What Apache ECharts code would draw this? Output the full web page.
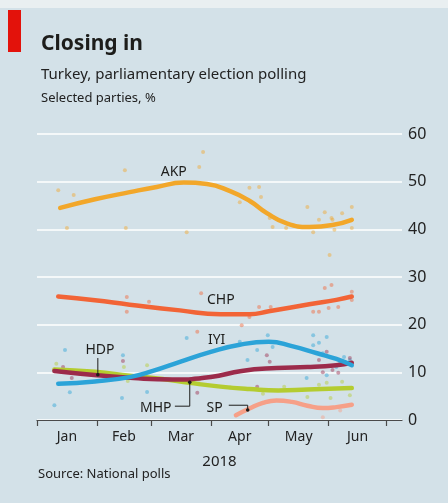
<!DOCTYPE html>
<html>
<head>
<meta charset="utf-8">
<script src="https://cdn.jsdelivr.net/npm/echarts@6/dist/echarts.min.js"></script>
<style>
html,body{margin:0;padding:0;background:#d3e1e8;}
#c{width:448px;height:503px;}
</style>
</head>
<body>
<div id="c"></div>
<script>
// ---- Data (x = days since 1 Jan 2018, y = % support) ----
var monthStartDays = [0, 31, 59, 90, 120, 151, 181];
var monthMidDays = [15.5, 45, 74.5, 105, 135.5, 166];
var monthNames = ['Jan', 'Feb', 'Mar', 'Apr', 'May', 'Jun'];

var akpDays = [12, 30, 48, 62, 76, 88, 100, 110, 119, 129, 141, 153, 163];
var akpVals = [44.5, 46.3, 47.8, 48.9, 49.8, 49.5, 48.0, 46.0, 43.4, 41.3, 40.5, 40.9, 42.0];
var chpDays = [11, 30, 48, 74, 95, 110, 120, 141, 155, 163];
var chpVals = [25.9, 25.1, 24.2, 23.0, 22.2, 22.2, 22.8, 24.3, 25.2, 25.9];
var iyiDays = [11, 30, 48, 60, 74, 90, 105, 120, 132, 145, 155, 163];
var iyiVals = [7.6, 8.1, 9.0, 10.3, 12.2, 14.3, 15.8, 16.4, 15.5, 14.0, 12.8, 11.5];
var hdpDays = [9, 31, 50, 70, 90, 106, 124, 140, 155, 163];
var hdpVals = [10.3, 9.4, 8.8, 8.5, 9.0, 10.3, 10.9, 11.1, 11.5, 12.0];
var mhpDays = [9, 30, 48, 65, 79, 95, 110, 125, 140, 155, 163];
var mhpVals = [10.6, 10.1, 9.3, 8.6, 7.8, 7.0, 6.5, 6.2, 6.4, 6.6, 6.7];
var spDays = [103, 110, 117, 124, 132, 140, 148, 155, 163];
var spVals = [1.0, 2.4, 3.6, 4.1, 3.8, 3.0, 2.5, 2.7, 3.2];

var akpPolls = [[11,48.2],[19,47.2],[15.5,40.3],[45.5,52.4],[46,40.3],[77.5,39.4],[86,56.2],[84,53.1],[105,45.7],[110,48.7],[115,48.9],[116,46.8],[120.5,42.4],[122,40.5],[129,40.3],[140,44.7],[143,39.4],[146,42],[149,43.6],[151.5,34.6],[152.5,42.4],[153,42],[154,39.9],[158,43.4],[163,44.7],[163,40.3]];
var chpPolls = [[46.5,25.8],[46.5,22.7],[58,24.8],[83,18.5],[85,26.6],[106,19.9],[110,21.6],[115,23.7],[121,23.7],[143,22.7],[146,22.7],[149,27.7],[151,23.5],[152.5,28.3],[156,23.7],[163,26.9],[163,25.2]];
var iyiPolls = [[9,3.1],[14.5,14.7],[17,5.8],[44.5,13.6],[44,4.6],[57,5.9],[77.5,17.2],[105,16.4],[109,12.6],[114,14.7],[119.5,17.8],[122,15.3],[139.6,8.8],[143,17.8],[143,15.7],[146,16.2],[148,14],[150,17.4],[150,9.4],[155,11.1],[157,12.2],[159,13.2],[162,12.6]];
var hdpPolls = [[13.5,11.1],[18,8.8],[44.5,12.4],[83,5.7],[114,7.0],[119,13.6],[120.5,12.2],[146,12.6],[148,10],[150,14.3],[153,10.5],[156,9.9],[162,13]];
var mhpPolls = [[10,11.8],[45,11.1],[47,8.2],[57,11.5],[84,8.5],[100,6.8],[117,5.5],[128,7.0],[140,4.8],[146,7.4],[150,7.8],[152,4.6],[158,8.0],[162,5.2]];
var spPolls = [[120,3.9],[148,0.6],[157,2.0]];

// label anchors in data coordinates [day, value]
var partyNames = ['AKP', 'CHP', 'IYI', 'HDP', 'MHP', 'SP'];
var labelAnchors = [[70.8, 52.0], [95.2, 25.2], [93, 16.8], [32.6, 14.7], [61.5, 2.5], [92, 2.5]];
var leaderHDP = [[31.5, 13.0], [31.5, 9.5]];
var leaderMHP = [[71.4, 2.9], [79.1, 2.9], [79.1, 7.9]];
var leaderSP = [[99.3, 3.1], [109.1, 3.1], [109.1, 2.1]];

var colors = {AKP:'#f2a72a', CHP:'#f26436', IYI:'#2ba3d8', HDP:'#9c2b4b', MHP:'#b4cc30', SP:'#f6a088'};
var FONT = '"Noto Sans", "Open Sans", sans-serif';
var TXT = '#222222';

function zip(d, v) { return d.map(function (x, i) { return [x, v[i]]; }); }

function lineSeries(name, d, v, z) {
  return { type: 'line', name: name, data: zip(d, v), smooth: 0.5, symbol: 'none', z: z,
    lineStyle: { color: colors[name], width: 4.5, cap: 'round' }, silent: true };
}
function dotSeries(name, pts) {
  return { type: 'scatter', name: name + ' polls', data: pts, symbolSize: 4, z: 1,
    itemStyle: { color: colors[name], opacity: 0.45 }, silent: true };
}

var chart = echarts.init(document.getElementById('c'), null, { renderer: 'canvas' });
var option = {
  animation: false,
  backgroundColor: '#d3e1e8',
  textStyle: { fontFamily: FONT },
  grid: { left: 37, right: 46, top: 134, bottom: 83, containLabel: false },
  xAxis: {
    type: 'value', min: 0, max: 189,
    axisLine: { show: true, lineStyle: { color: '#4a4a4a', width: 1.2 } },
    axisTick: { show: true, customValues: monthStartDays, length: 6, lineStyle: { color: '#4a4a4a', width: 1.2 } },
    axisLabel: { customValues: monthMidDays, margin: 10, fontSize: 14, color: TXT, fontFamily: FONT,
      formatter: function (v) { var i = monthMidDays.indexOf(v); return i >= 0 ? monthNames[i] : ''; } },
    splitLine: { show: false },
    name: '2018', nameLocation: 'middle', nameGap: 34,
    nameTextStyle: { fontSize: 15, color: TXT, fontFamily: FONT }
  },
  yAxis: {
    type: 'value', position: 'right', min: 0, max: 60, interval: 10,
    axisLine: { show: false }, axisTick: { show: false },
    axisLabel: { margin: 6, fontSize: 16, color: TXT, fontFamily: FONT },
    splitLine: { lineStyle: { color: '#ffffff', width: 1.5 } }
  },
  series: [
    dotSeries('AKP', akpPolls), dotSeries('CHP', chpPolls), dotSeries('IYI', iyiPolls),
    dotSeries('HDP', hdpPolls), dotSeries('MHP', mhpPolls), dotSeries('SP', spPolls),
    lineSeries('MHP', mhpDays, mhpVals, 3),
    lineSeries('HDP', hdpDays, hdpVals, 4),
    lineSeries('CHP', chpDays, chpVals, 4),
    lineSeries('AKP', akpDays, akpVals, 4),
    lineSeries('SP', spDays, spVals, 4),
    lineSeries('IYI', iyiDays, iyiVals, 5)
  ]
};
chart.setOption(option);

function px(p) { return chart.convertToPixel({ gridIndex: 0 }, p); }

var g = [
  { type: 'rect', z: -1, shape: { x: 0, y: 0, width: 448, height: 8 }, style: { fill: '#e9eff1' } },
  { type: 'rect', shape: { x: 8, y: 10, width: 13, height: 42 }, style: { fill: '#e3120b' } },
  { type: 'text', x: 41, y: 44, style: { text: 'Closing in', font: 'bold 21px ' + FONT, fill: '#1d1d1b', textVerticalAlign: 'middle' } },
  { type: 'text', x: 41, y: 75, style: { text: 'Turkey, parliamentary election polling', font: '15px ' + FONT, fill: TXT, textVerticalAlign: 'middle' } },
  { type: 'text', x: 41, y: 98, style: { text: 'Selected parties, %', font: '13px ' + FONT, fill: TXT, textVerticalAlign: 'middle' } },
  { type: 'text', x: 38, y: 474, style: { text: 'Source: National polls', font: '13px ' + FONT, fill: TXT, textVerticalAlign: 'middle' } }
];
partyNames.forEach(function (n, i) {
  var p = px(labelAnchors[i]);
  g.push({ type: 'text', x: p[0], y: p[1], z: 20,
    style: { text: n, font: '14px ' + FONT, fill: '#1d1d1b', textAlign: 'center', textVerticalAlign: 'middle' } });
});
[leaderHDP, leaderMHP, leaderSP].forEach(function (pts) {
  var pp = pts.map(px);
  g.push({ type: 'polyline', z: 20, shape: { points: pp }, style: { stroke: '#1d1d1b', lineWidth: 1, fill: null } });
  var e = pp[pp.length - 1];
  g.push({ type: 'circle', z: 21, shape: { cx: e[0], cy: e[1], r: 1.8 }, style: { fill: '#1d1d1b' } });
});
chart.setOption({ graphic: g });
</script>
</body>
</html>
